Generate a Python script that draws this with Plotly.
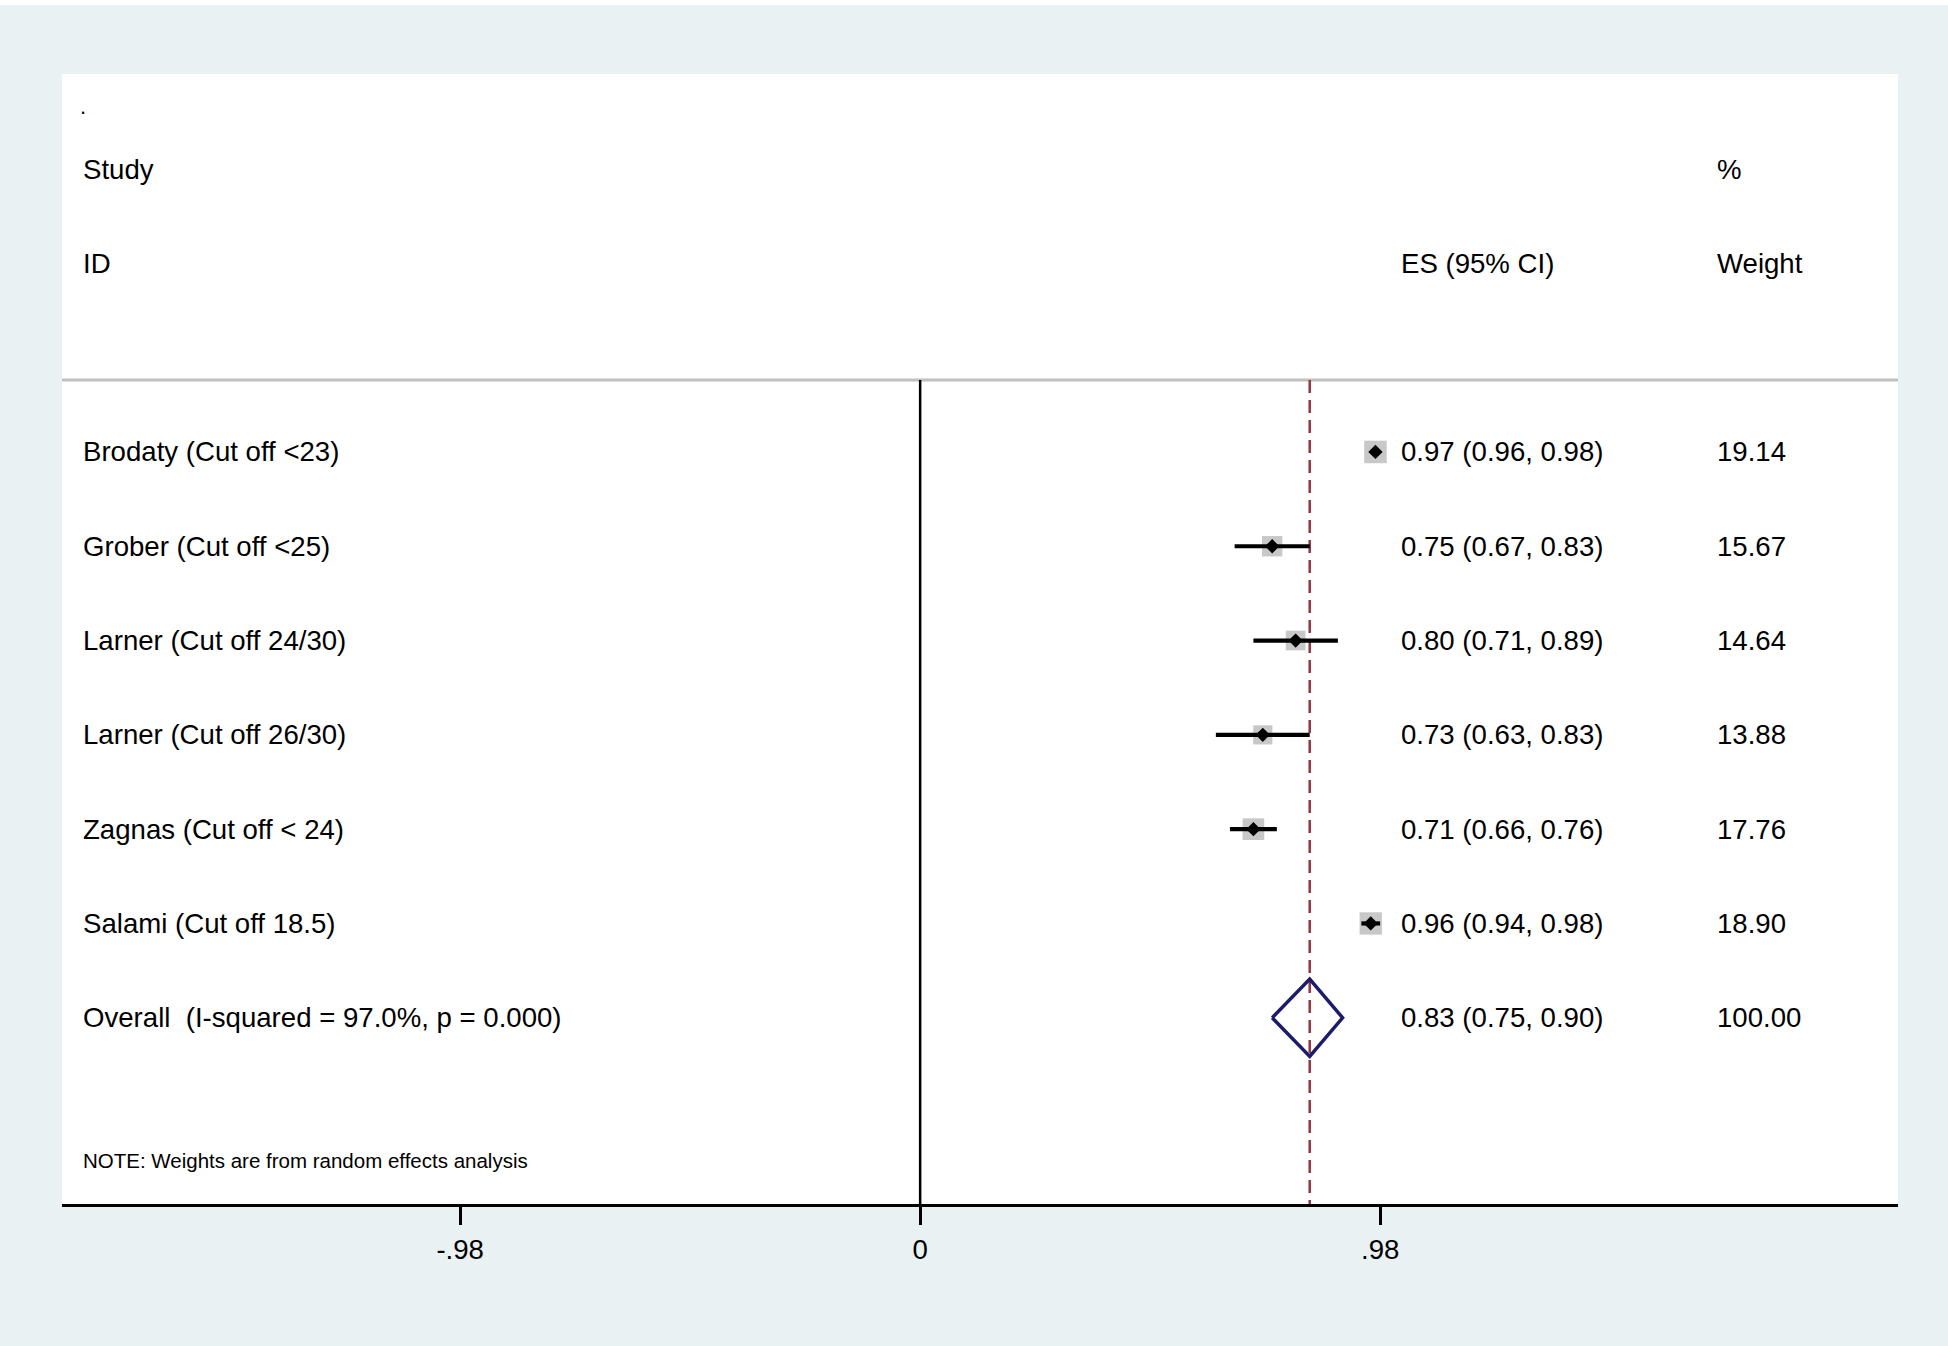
import plotly.graph_objects as go

# ---- data ----
studies = ["Brodaty (Cut off <23)", "Grober (Cut off <25)", "Larner (Cut off 24/30)",
           "Larner (Cut off 26/30)", "Zagnas (Cut off < 24)", "Salami (Cut off 18.5)"]
es = [0.97, 0.75, 0.80, 0.73, 0.71, 0.96]
lo = [0.96, 0.67, 0.71, 0.63, 0.66, 0.94]
hi = [0.98, 0.83, 0.89, 0.83, 0.76, 0.98]
weights = [19.14, 15.67, 14.64, 13.88, 17.76, 18.90]

overall_label = "Overall  (I-squared = 97.0%, p = 0.000)"
overall_es, overall_lo, overall_hi, overall_w = 0.83, 0.75, 0.90, 100.00

tick_vals = [-0.98, 0, 0.98]
tick_text = ["-.98", "0", ".98"]
note = "NOTE: Weights are from random effects analysis"

# ---- layout constants ----
FONT = "Liberation Sans, Arial, Helvetica, sans-serif"
FS = 27.6
X_RANGE = [-1.8283, 2.0833]
Y_RANGE = [8.975, -3.008]
X_LABEL, X_ES, X_W = -1.786, 1.0225, 1.6955
SEP_Y = 0.236
PLOT_H = 1130.0

rows = list(range(1, len(studies) + 1))
row_overall = len(studies) + 1

fig = go.Figure()

# weight boxes
box_sizes = [22.5 * (w / max(weights)) ** 0.5 for w in weights]
fig.add_trace(go.Scatter(x=es, y=rows, mode="markers",
                         marker=dict(symbol="square", size=box_sizes, color="#b0b0b0",
                                     line=dict(width=0)),
                         hoverinfo="skip", showlegend=False))
# CI lines
fig.add_trace(go.Scatter(x=es, y=rows, mode="markers",
                         marker=dict(size=0.1, color="rgba(0,0,0,0)"),
                         error_x=dict(type="data", symmetric=False,
                                      array=[h - e for h, e in zip(hi, es)],
                                      arrayminus=[e - l for e, l in zip(es, lo)],
                                      thickness=4.2, width=0, color="black"),
                         hoverinfo="skip", showlegend=False))
# point estimates
fig.add_trace(go.Scatter(x=es, y=rows, mode="markers",
                         marker=dict(symbol="diamond", size=11, color="black"),
                         hoverinfo="skip", showlegend=False))
# overall diamond
dh = 0.41
fig.add_trace(go.Scatter(x=[overall_lo, overall_es, overall_hi, overall_es, overall_lo],
                         y=[row_overall, row_overall - dh, row_overall, row_overall + dh, row_overall],
                         mode="lines", line=dict(color="#1c1c6b", width=3.5),
                         fill="toself", fillcolor="rgba(255,255,255,0)",
                         hoverinfo="skip", showlegend=False))

shapes = [
    dict(type="line", xref="paper", yref="y", x0=0, x1=1, y0=SEP_Y, y1=SEP_Y,
         line=dict(color="#c0c0c0", width=3), layer="below"),
    dict(type="line", xref="x", yref="y", x0=0, x1=0, y0=SEP_Y, y1=Y_RANGE[0],
         line=dict(color="black", width=2.5), layer="below"),
    dict(type="line", xref="x", yref="y", x0=overall_es, x1=overall_es, y0=SEP_Y, y1=Y_RANGE[0],
         line=dict(color="#963a48", width=2.6, dash="13px,7px"), layer="below"),
    # thin white strip at the very top of the image
    dict(type="rect", xref="paper", yref="paper", x0=-0.05, x1=1.05,
         y0=1 + 69 / PLOT_H, y1=1 + 75 / PLOT_H,
         fillcolor="white", line=dict(width=0), layer="above"),
]

annotations = []
def txt(x, y, s, size=FS):
    annotations.append(dict(x=x, y=y, xref="x", yref="y", text=s, showarrow=False,
                            xanchor="left", yanchor="middle", borderpad=0,
                            font=dict(family=FONT, size=size, color="black")))

txt(-1.792, -2.66, ".", 22)
txt(X_LABEL, -2, "Study")
txt(X_LABEL, -1, "ID")
txt(X_ES, -1, "ES (95% CI)")
txt(X_W, -2, "%")
txt(X_W, -1, "Weight")
for r, s, e, l, h, w in zip(rows, studies, es, lo, hi, weights):
    txt(X_LABEL, r, s)
    txt(X_ES, r, f"{e:.2f} ({l:.2f}, {h:.2f})")
    txt(X_W, r, f"{w:.2f}")
txt(X_LABEL, row_overall, overall_label)
txt(X_ES, row_overall, f"{overall_es:.2f} ({overall_lo:.2f}, {overall_hi:.2f})")
txt(X_W, row_overall, f"{overall_w:.2f}")
txt(X_LABEL, 8.51, note, 20.5)

fig.update_layout(
    width=1948, height=1346,
    margin=dict(l=62, r=50, t=74, b=142, autoexpand=False),
    paper_bgcolor="#e9f1f3", plot_bgcolor="white",
    shapes=shapes, annotations=annotations,
    xaxis=dict(range=X_RANGE, showgrid=False, zeroline=False,
               showline=True, linecolor="black", linewidth=3,
               ticks="outside", ticklen=18, tickwidth=2.5, tickcolor="black",
               tickvals=tick_vals, ticktext=tick_text, ticklabelstandoff=1,
               tickfont=dict(family=FONT, size=FS, color="black")),
    yaxis=dict(range=Y_RANGE, visible=False, showgrid=False, zeroline=False),
    font=dict(family=FONT, size=FS, color="black"),
)

fig.write_html("out.html", config={"displayModeBar": False},
               post_script="document.body.style.margin='0px';document.body.style.overflow='hidden';")
